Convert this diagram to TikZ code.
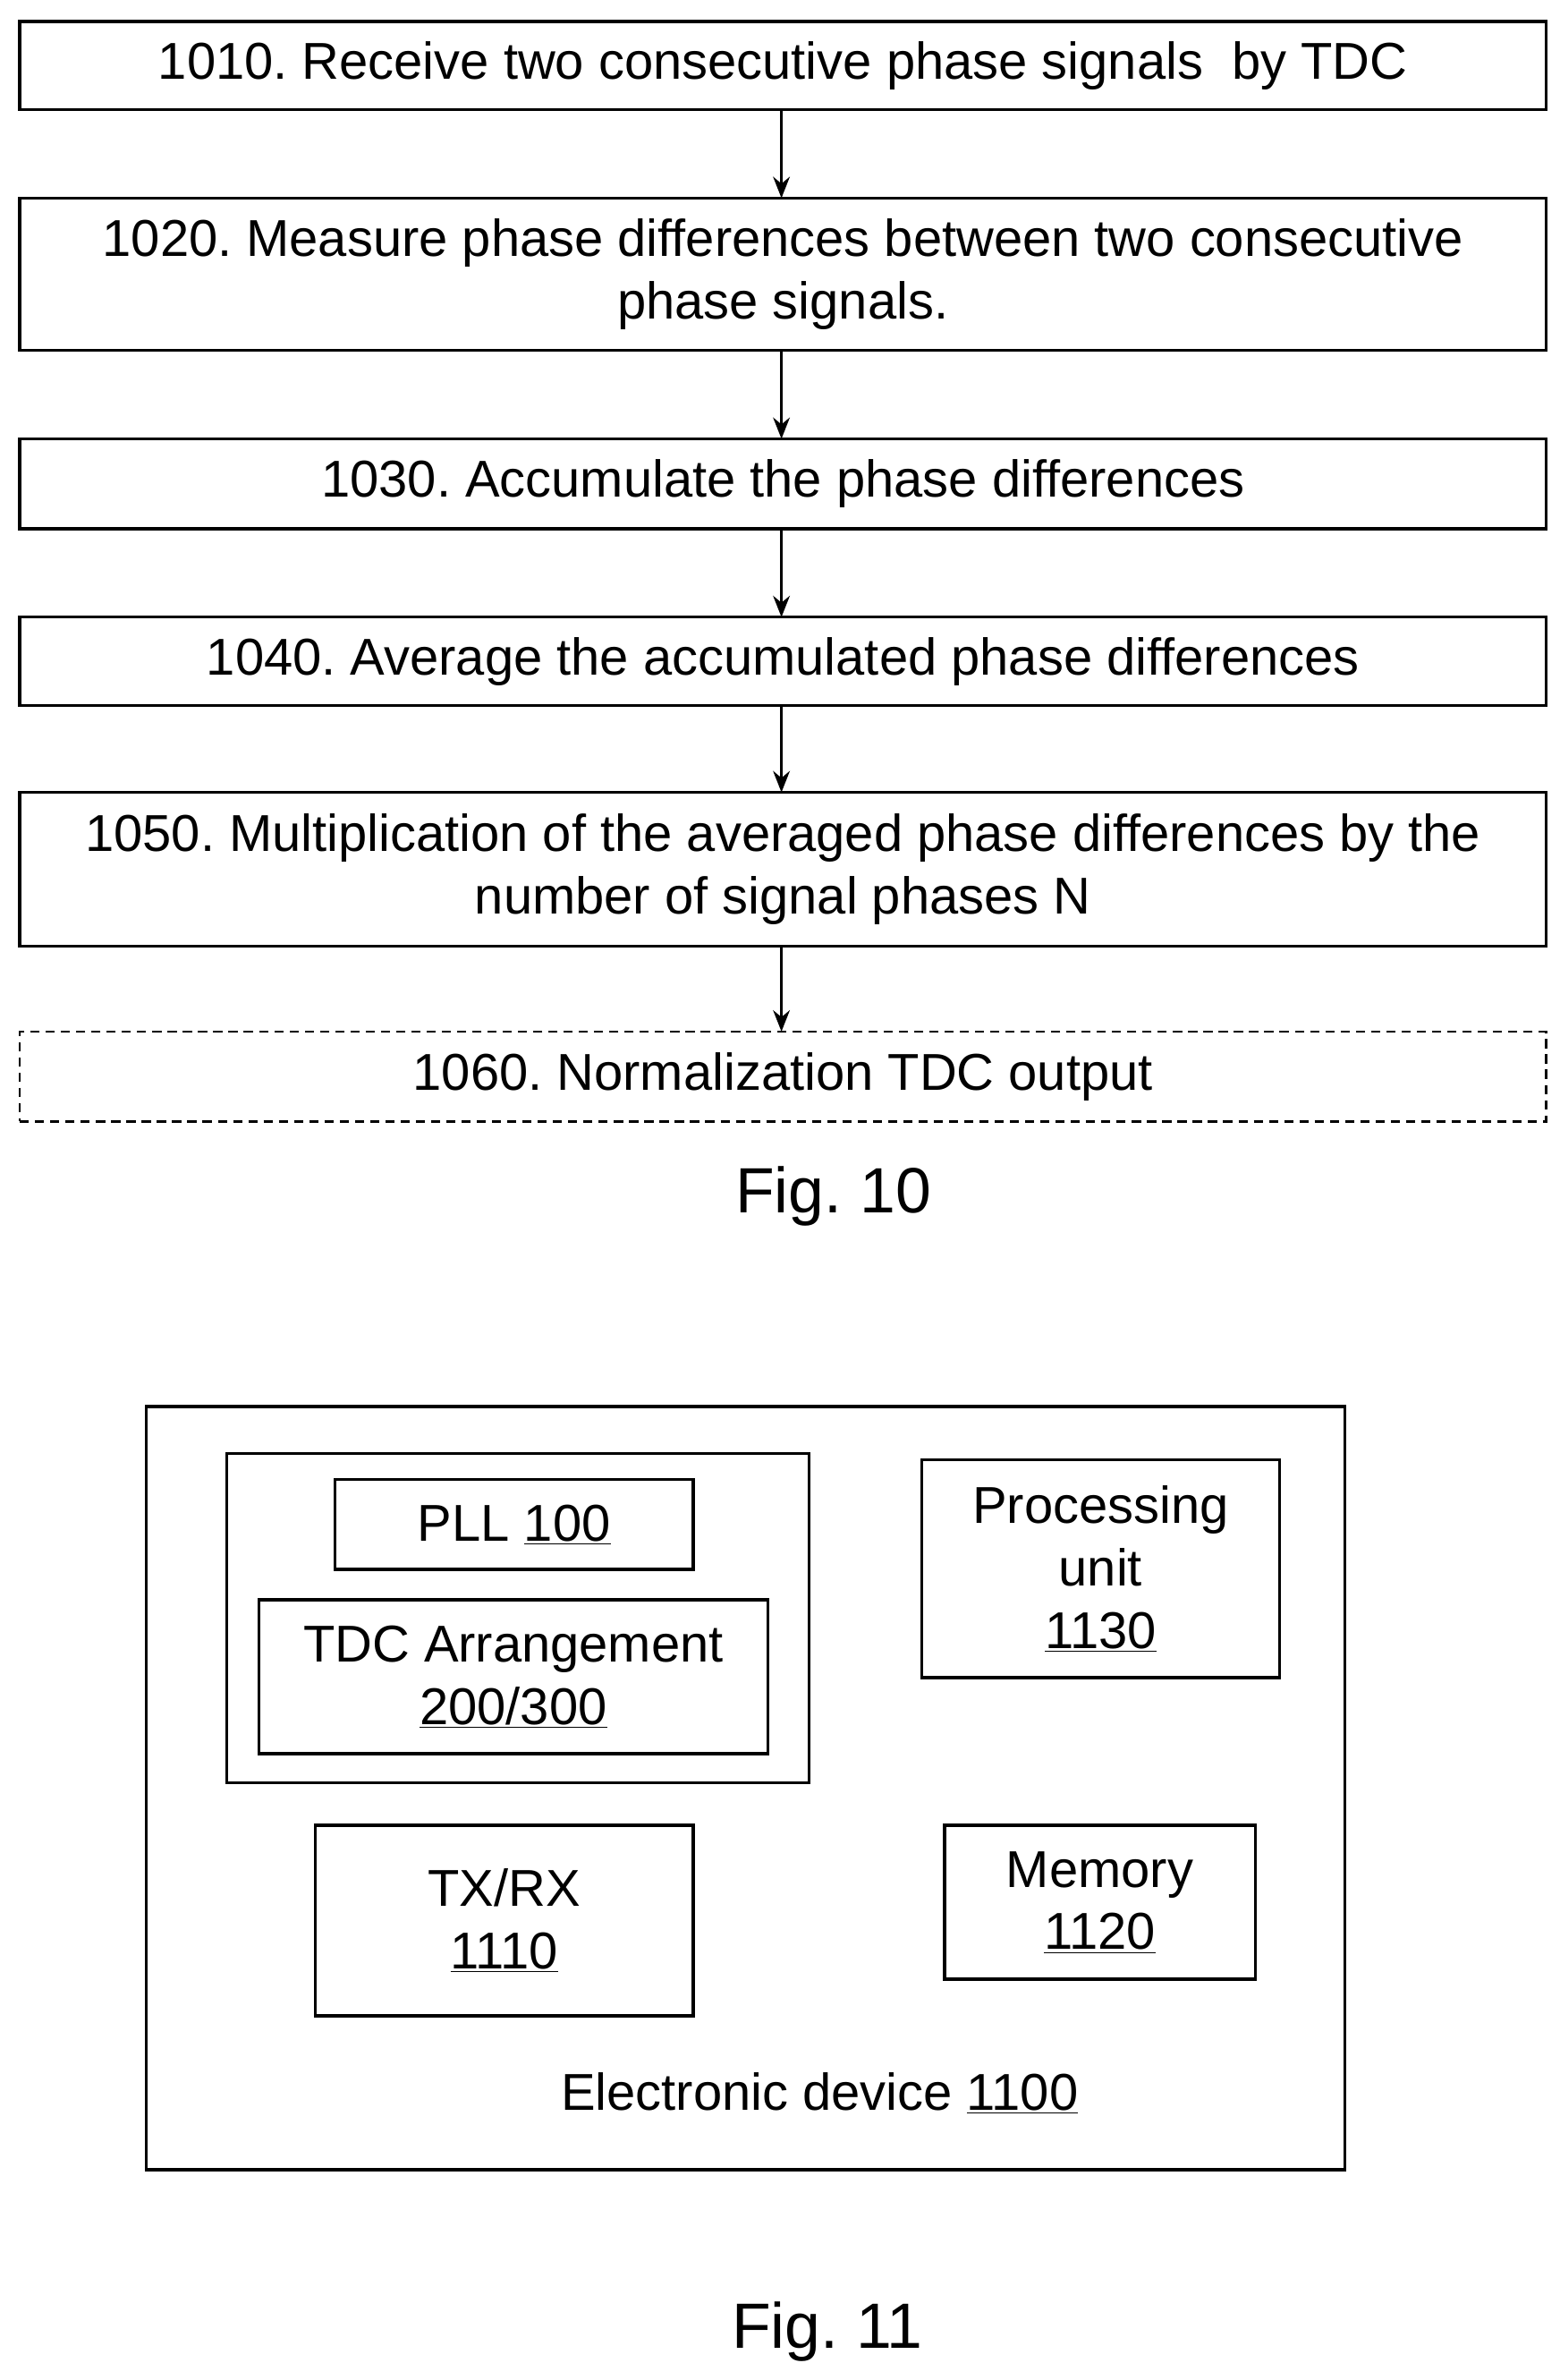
\documentclass[tikz,border=0pt]{standalone}
\usepackage{fontspec}
\setmainfont{Liberation Sans}
\frenchspacing
\usetikzlibrary{arrows.meta}
\begin{document}
\begin{tikzpicture}[x=1pt,y=-1pt,
  box/.style={draw,line width=2pt,inner sep=0pt,align=center,font=\fontsize{34}{41}\selectfont},
  arr/.style={-{Stealth[length=14pt,width=11pt]},line width=1.6pt},
  lbl/.style={inner sep=0pt,align=center,font=\fontsize{34}{41}\selectfont}]
\useasboundingbox (0,0) rectangle (1024,1562);

% Fig. 10
\node[box,minimum width=1002pt,minimum height=58pt] (s1010) at (514,43) {1010. Receive two consecutive phase signals \ by TDC};
\node[box,minimum width=1002pt,minimum height=100pt] (s1020) at (514,180) {1020. Measure phase differences between two consecutive\\phase signals.};
\node[box,minimum width=1002pt,minimum height=59pt] (s1030) at (514,317.5) {1030. Accumulate the phase differences};
\node[box,minimum width=1002pt,minimum height=58pt] (s1040) at (514,434) {1040. Average the accumulated phase differences};
\node[box,minimum width=1002pt,minimum height=101pt] (s1050) at (514,570.5) {1050. Multiplication of the averaged phase differences by the\\number of signal phases N};
\node[box,dash pattern=on 6pt off 4pt,line width=1.5pt,minimum width=1002pt,minimum height=59pt] (s1060) at (514,706.5) {1060. Normalization TDC output};
\draw[arr] (513,72) -- (513,130);
\draw[arr] (513,230) -- (513,288);
\draw[arr] (513,347) -- (513,405);
\draw[arr] (513,463) -- (513,520);
\draw[arr] (513,621) -- (513,677);
\node[lbl,font=\fontsize{42}{50}\selectfont] (fig10) at (547,785) {Fig. 10};

% Fig. 11
\draw[line width=2pt] (96,923) rectangle (883,1424);
\draw[line width=2pt] (149,954) rectangle (531,1170);
\node[box,minimum width=235pt,minimum height=59pt] (pll) at (337.5,1000.5) {PLL \underline{100}};
\node[box,minimum width=334pt,minimum height=101pt] (tdc) at (337,1100.5) {TDC Arrangement\\\underline{200/300}};
\node[box,minimum width=235pt,minimum height=143pt] (proc) at (722.5,1029.5) {Processing\\unit\\\underline{1130}};
\node[box,minimum width=248pt,minimum height=125pt] (txrx) at (331,1260.5) {TX/RX\\\underline{1110}};
\node[box,minimum width=204pt,minimum height=101pt] (mem) at (722,1248.5) {Memory\\\underline{1120}};
\node[lbl] (dev) at (538,1374) {Electronic device \underline{1100}};
\node[lbl,font=\fontsize{42}{50}\selectfont] (fig11) at (543,1530) {Fig. 11};
\end{tikzpicture}
\end{document}
